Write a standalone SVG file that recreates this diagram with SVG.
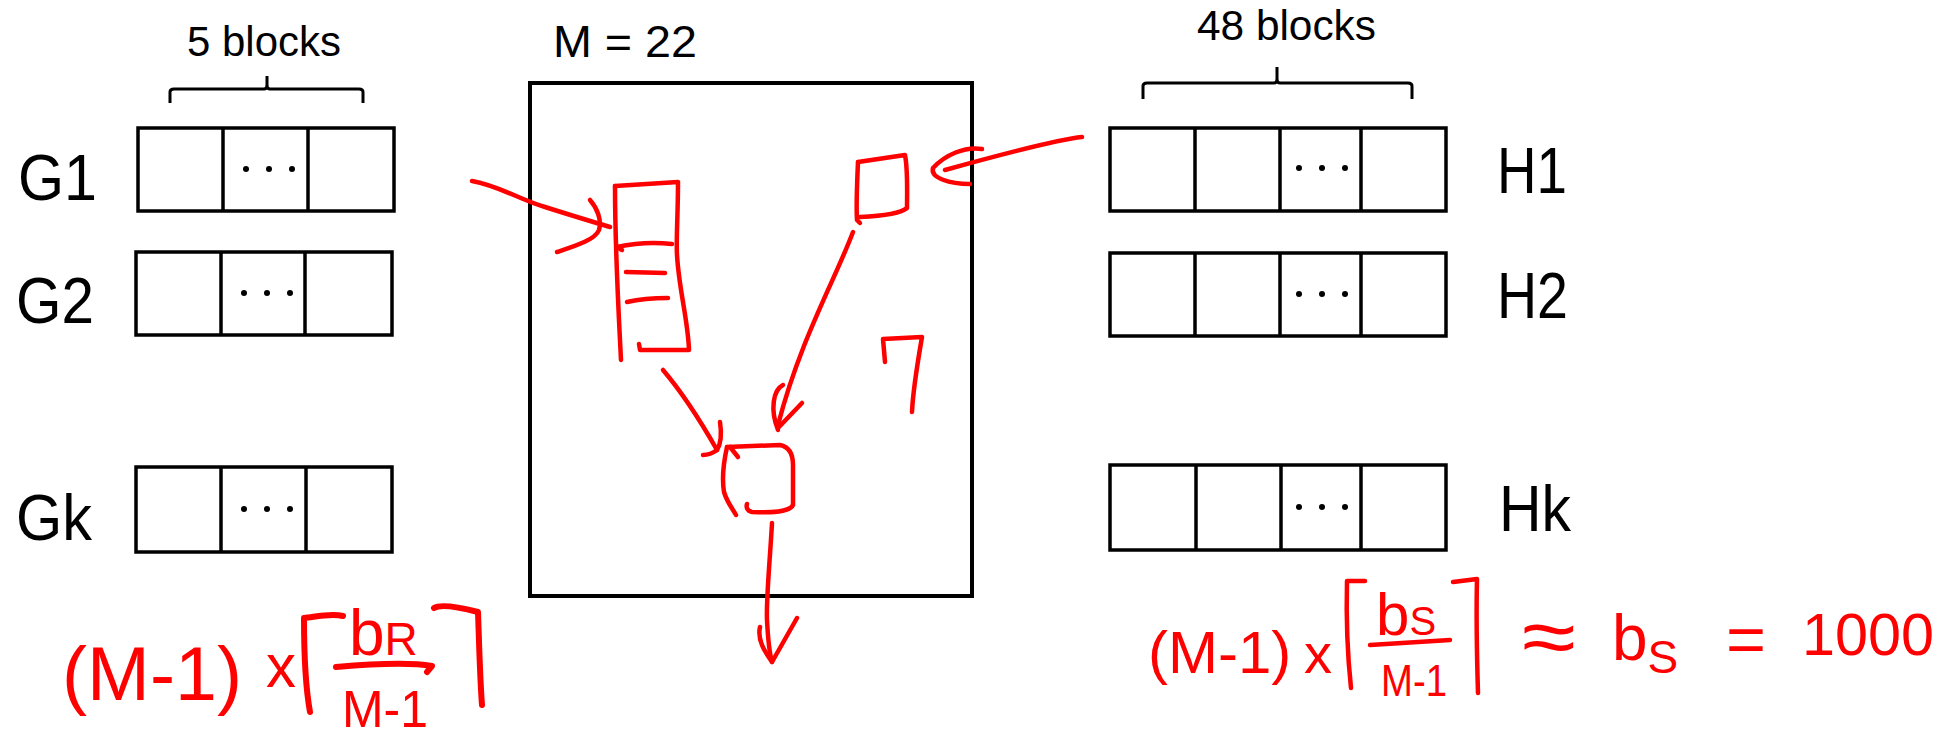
<svg xmlns="http://www.w3.org/2000/svg" width="1947" height="741" viewBox="0 0 1947 741">
<style>
.blk{fill:#fff;stroke:#000;stroke-width:3.5}
.div{stroke:#000;stroke-width:3.5}
.brace{fill:none;stroke:#000;stroke-width:3}
.lbl{font-family:"Liberation Sans",Arial,sans-serif;fill:#000}
.dot{fill:#000}
.red{fill:none;stroke:#f00;stroke-width:4.5;stroke-linecap:round;stroke-linejoin:round}
.redthick{fill:none;stroke:#f00;stroke-width:6;stroke-linecap:round;stroke-linejoin:round}
.rt{font-family:"Liberation Sans",Arial,sans-serif;fill:#f00}
</style>
<rect width="1947" height="741" fill="#fff"/>

<g id="brace-left">
  <path class="brace" d="M170 103 V92 Q170 89 174 89 H264 Q267 89 267 85 V76 M267 85 Q267 89 270 89 H359 Q363 89 363 92 V103"/>
  <text class="lbl" x="187" y="56" font-size="42" textLength="154" lengthAdjust="spacingAndGlyphs">5 blocks</text>
</g>

<g id="G1">
  <rect class="blk" x="138" y="128" width="256" height="83"/>
  <line class="div" x1="223" y1="128" x2="223" y2="211"/>
  <line class="div" x1="308" y1="128" x2="308" y2="211"/>
  <circle class="dot" cx="246" cy="169" r="3"/><circle class="dot" cx="269" cy="169" r="3"/><circle class="dot" cx="292" cy="169" r="3"/>
  <text class="lbl" x="18" y="200" font-size="65" textLength="79" lengthAdjust="spacingAndGlyphs">G1</text>
</g>
<g id="G2">
  <rect class="blk" x="136" y="252" width="256" height="83"/>
  <line class="div" x1="221" y1="252" x2="221" y2="335"/>
  <line class="div" x1="305" y1="252" x2="305" y2="335"/>
  <circle class="dot" cx="244" cy="293" r="3"/><circle class="dot" cx="267" cy="293" r="3"/><circle class="dot" cx="290" cy="293" r="3"/>
  <text class="lbl" x="16" y="323" font-size="65" textLength="78" lengthAdjust="spacingAndGlyphs">G2</text>
</g>
<g id="Gk">
  <rect class="blk" x="136" y="467" width="256" height="85"/>
  <line class="div" x1="221" y1="467" x2="221" y2="552"/>
  <line class="div" x1="306" y1="467" x2="306" y2="552"/>
  <circle class="dot" cx="244" cy="509" r="3"/><circle class="dot" cx="267" cy="509" r="3"/><circle class="dot" cx="290" cy="509" r="3"/>
  <text class="lbl" x="16" y="540" font-size="65" textLength="76" lengthAdjust="spacingAndGlyphs">Gk</text>
</g>

<g id="memory">
  <rect x="530" y="83" width="442" height="513" fill="none" stroke="#000" stroke-width="4"/>
  <text class="lbl" x="553" y="57" font-size="45" textLength="144" lengthAdjust="spacingAndGlyphs">M = 22</text>
</g>

<g id="brace-right">
  <path class="brace" d="M1143 99 V86 Q1143 83 1147 83 H1274 Q1277 83 1277 79 V67 M1277 79 Q1277 83 1280 83 H1408 Q1412 83 1412 86 V99"/>
  <text class="lbl" x="1197" y="40" font-size="43" textLength="179" lengthAdjust="spacingAndGlyphs">48 blocks</text>
</g>

<g id="H1">
  <rect class="blk" x="1110" y="128" width="336" height="83"/>
  <line class="div" x1="1195" y1="128" x2="1195" y2="211"/>
  <line class="div" x1="1280" y1="128" x2="1280" y2="211"/>
  <line class="div" x1="1361" y1="128" x2="1361" y2="211"/>
  <circle class="dot" cx="1299" cy="168" r="3"/><circle class="dot" cx="1322" cy="168" r="3"/><circle class="dot" cx="1345" cy="168" r="3"/>
  <text class="lbl" x="1497" y="193" font-size="64" textLength="70" lengthAdjust="spacingAndGlyphs">H1</text>
</g>
<g id="H2">
  <rect class="blk" x="1110" y="253" width="336" height="83"/>
  <line class="div" x1="1195" y1="253" x2="1195" y2="336"/>
  <line class="div" x1="1280" y1="253" x2="1280" y2="336"/>
  <line class="div" x1="1361" y1="253" x2="1361" y2="336"/>
  <circle class="dot" cx="1299" cy="294" r="3"/><circle class="dot" cx="1322" cy="294" r="3"/><circle class="dot" cx="1345" cy="294" r="3"/>
  <text class="lbl" x="1497" y="318" font-size="64" textLength="71" lengthAdjust="spacingAndGlyphs">H2</text>
</g>
<g id="Hk">
  <rect class="blk" x="1110" y="465" width="336" height="85"/>
  <line class="div" x1="1196" y1="465" x2="1196" y2="550"/>
  <line class="div" x1="1281" y1="465" x2="1281" y2="550"/>
  <line class="div" x1="1361" y1="465" x2="1361" y2="550"/>
  <circle class="dot" cx="1299" cy="507" r="3"/><circle class="dot" cx="1322" cy="507" r="3"/><circle class="dot" cx="1345" cy="507" r="3"/>
  <text class="lbl" x="1499" y="531" font-size="64" textLength="72" lengthAdjust="spacingAndGlyphs">Hk</text>
</g>

<g id="buffers">
  <g id="input-buffer-R">
    <path class="red" d="M615 186 L678 182 C678 215 676 240 677 255 C679 290 688 320 689 350 L640 350 L639 344"/>
    <path class="red" d="M615 186 C615 250 618 300 621 360"/>
    <path class="red" d="M617 247 C635 243 655 242 672 244 M617 247 L622 250"/>
    <path class="red" d="M626 272 L665 273"/>
    <path class="red" d="M627 302 C640 299 655 298 668 298"/>
  </g>
  <g id="input-buffer-S">
    <path class="red" d="M858 162 L905 155 C908 170 907 195 907 208 C900 214 880 216 860 217"/>
    <path class="red" d="M858 162 C857 185 856 205 857 220 L860 223"/>
  </g>
  <g id="spare-buffer">
    <path class="red" d="M885 362 L883 339 L922 337 C918 360 913 390 912 412"/>
  </g>
  <g id="output-buffer">
    <path class="red" d="M727 447 L780 445 C790 447 793 455 793 465 L793 505 C790 512 770 513 752 512 C747 511 746 507 747 504"/>
    <path class="red" d="M727 447 C723 465 722 480 724 492 C727 502 732 508 736 515"/>
    <path class="red" d="M730 447 L738 457"/>
  </g>
</g>

<g id="connectors">
  <path class="red" d="M472 181 C500 186 520 200 545 207 C570 215 590 221 610 227"/>
  <path class="red" d="M590 200 C597 208 602 220 599 230 C595 240 575 246 557 252"/>
  <path class="red" d="M1082 137 C1060 139 1010 152 945 170"/>
  <path class="red" d="M982 149 C965 146 945 155 933 168 C930 178 950 184 970 184"/>
  <path class="red" d="M853 232 C835 280 800 340 778 425"/>
  <path class="red" d="M783 385 C773 390 770 410 778 430 M802 403 L778 428"/>
  <path class="red" d="M663 370 C680 390 700 420 717 450"/>
  <path class="red" d="M720 422 C722 435 720 445 717 450 C713 453 707 455 703 455"/>
  <path class="red" d="M772 523 C770 560 766 600 767 620 C768 640 770 655 772 662"/>
  <path class="red" d="M760 627 C757 640 765 652 772 662 L797 618"/>
</g>

<g id="formula-left">
  <text class="rt" x="62" y="700" font-size="76" textLength="180" lengthAdjust="spacingAndGlyphs">(M-1)</text>
  <text class="rt" x="266" y="687" font-size="62" textLength="30" lengthAdjust="spacingAndGlyphs">x</text>
  <path class="redthick" d="M343 616 C330 613 315 617 304 618 C304 650 306 690 310 712"/>
  <text class="rt" x="349" y="655" font-size="64">b<tspan font-size="46">R</tspan></text>
  <path class="redthick" d="M336 667 C370 664 410 662 432 666 L427 672"/>
  <text class="rt" x="342" y="727" font-size="52" textLength="86" lengthAdjust="spacingAndGlyphs">M-1</text>
  <path class="redthick" d="M434 608 C440 604 455 606 478 612 C479 640 480 680 482 705"/>
</g>

<g id="formula-right">
  <text class="rt" x="1148" y="673" font-size="60">(M-1)</text>
  <text class="rt" x="1304" y="673" font-size="56">x</text>
  <path class="red" d="M1365 581 L1347 581 C1346 620 1348 660 1351 688"/>
  <text class="rt" x="1376" y="635" font-size="60">b<tspan font-size="40">S</tspan></text>
  <path class="red" d="M1370 645 L1450 640"/>
  <text class="rt" x="1381" y="696" font-size="44" textLength="66" lengthAdjust="spacingAndGlyphs">M-1</text>
  <path class="red" d="M1453 582 L1477 579 C1476 620 1477 660 1478 693"/>
  <text class="rt" x="1522" y="664" font-size="80" textLength="54" lengthAdjust="spacingAndGlyphs">≈</text>
  <text class="rt" x="1612" y="660" font-size="64">b<tspan font-size="46" dy="13">S</tspan></text>
  <text class="rt" x="1726" y="662" font-size="66" textLength="40" lengthAdjust="spacingAndGlyphs">=</text>
  <text class="rt" x="1802" y="655" font-size="60" textLength="132" lengthAdjust="spacingAndGlyphs">1000</text>
</g>
</svg>
